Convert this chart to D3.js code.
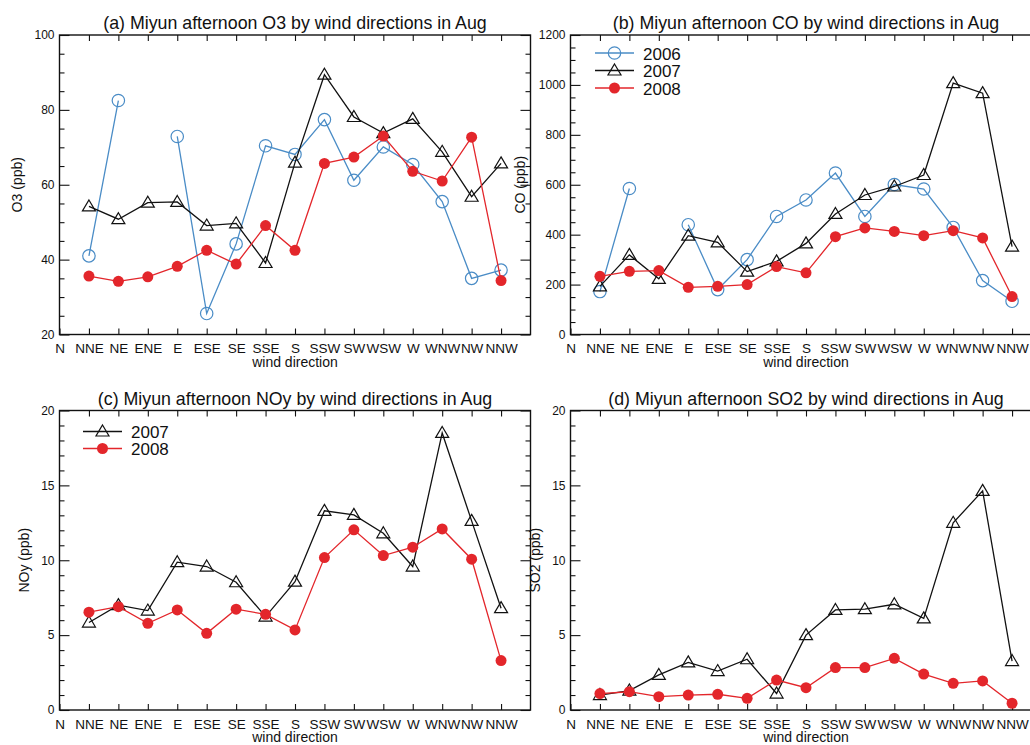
<!DOCTYPE html>
<html>
<head>
<meta charset="utf-8">
<script src="https://cdn.jsdelivr.net/npm/d3@7"></script>
<style>
  body { margin: 0; background: #fff; }
  text { font-family: "Liberation Sans", Arial, sans-serif; fill: #111; }
</style>
</head>
<body>
<div id="chart"></div>
<script>
// wind direction categories (N is position 0, box runs to 16)
const dirs = ["N","NNE","NE","ENE","E","ESE","SE","SSE","S","SSW","SW","WSW","W","WNW","NW","NNW"];

// values, N has no data
const o3_2006 = [null,41,82.5,null,72.9,25.6,44.2,70.4,68.1,77.4,61.2,70.1,65.4,55.5,35,37.2];
const o3_2007 = [null,54.2,50.8,55.2,55.4,49.1,49.7,39.1,65.9,89.4,78.1,73.8,77.6,68.8,56.8,65.7];
const o3_2008 = [null,35.6,34.2,35.4,38.2,42.5,38.8,49.1,42.5,65.7,67.4,73,63.6,61,72.7,34.4];

const co_2006 = [null,172,585,null,440,180,300,473,539,647,473,601,583,429,216,133];
const co_2007 = [null,193,319,223,396,369,252,293,365,483,559,593,639,1007,967,352];
const co_2008 = [null,233,253,256,189,193,200,272,247,392,427,413,396,416,387,152];

const noy_2007 = [null,5.84,7.0,6.64,9.87,9.58,8.53,6.24,8.57,13.3,13.03,11.8,9.58,18.5,12.63,6.8];
const noy_2008 = [null,6.53,6.9,5.79,6.68,5.12,6.73,6.39,5.35,10.18,12.03,10.31,10.87,12.09,10.07,3.3];

const so2_2007 = [null,1.0,1.3,2.34,3.18,2.6,3.39,1.1,5.0,6.68,6.73,7.06,6.12,12.5,14.63,3.27];
const so2_2008 = [null,1.1,1.22,0.89,1.0,1.05,0.78,2.0,1.49,2.83,2.83,3.45,2.4,1.78,1.94,0.45];

const styles = {
  "2006": {color: "#4a8cc6", marker: "open-circle"},
  "2007": {color: "#111111", marker: "triangle"},
  "2008": {color: "#e3262b", marker: "dot"}
};

const panels = [
  {title: "(a) Miyun afternoon O3 by wind directions in Aug", ylab: "O3 (ppb)",
   x0: 59.5, y0: 35, ylabX: 22, domain: [20,100], major: 20, minor: 5,
   series: [["2006", o3_2006], ["2007", o3_2007], ["2008", o3_2008]], legend: null},
  {title: "(b) Miyun afternoon CO by wind directions in Aug", ylab: "CO (ppb)",
   x0: 570.5, y0: 35, ylabX: 525, domain: [0,1200], major: 200, minor: 50,
   series: [["2006", co_2006], ["2007", co_2007], ["2008", co_2008]],
   legend: {x: 595, y: 53, step: 17.5}},
  {title: "(c) Miyun afternoon NOy by wind directions in Aug", ylab: "NOy (ppb)",
   x0: 59.5, y0: 410.5, ylabX: 29, domain: [0,20], major: 5, minor: 1,
   series: [["2007", noy_2007], ["2008", noy_2008]],
   legend: {x: 83, y: 431.5, step: 17}},
  {title: "(d) Miyun afternoon SO2 by wind directions in Aug", ylab: "SO2 (ppb)",
   x0: 570.5, y0: 410.5, ylabX: 540, domain: [0,20], major: 5, minor: 1,
   series: [["2007", so2_2007], ["2008", so2_2008]], legend: null}
];

const W = 1030, H = 745;
const pw = 471, ph = 299.5;

const svg = d3.select("#chart").append("svg")
  .attr("width", W).attr("height", H);

function drawMarker(g, kind, color) {
  if (kind === "open-circle") {
    g.append("circle").attr("r", 6.2).attr("fill", "none")
      .attr("stroke", color).attr("stroke-width", 1.2);
  } else if (kind === "triangle") {
    g.append("path").attr("d", "M0,-6.5L6.5,4.5L-6.5,4.5Z")
      .attr("fill", "#fff").attr("fill-opacity", 0).attr("stroke", color).attr("stroke-width", 1.2);
  } else {
    g.append("circle").attr("r", 5.5).attr("fill", color).attr("stroke", "none");
  }
}

panels.forEach(p => {
  const g = svg.append("g").attr("transform", `translate(${p.x0},${p.y0})`);

  const x = d3.scaleLinear().domain([0, 16]).range([0, pw]);
  const y = d3.scaleLinear().domain(p.domain).range([ph, 0]);

  const majors = d3.range(p.domain[0], p.domain[1] + 0.001, p.major);
  const minors = d3.range(p.domain[0], p.domain[1] + 0.001, p.minor)
    .filter(v => majors.indexOf(v) < 0);

  // y axes, ticks pointing inward
  g.append("g").call(d3.axisLeft(y).tickValues(majors).tickSizeInner(-10).tickSizeOuter(0)
      .tickPadding(5).tickFormat(d3.format("d")))
    .call(a => a.select(".domain").remove())
    .call(a => a.selectAll("text").attr("font-size", 12).style("font-family", null));
  g.append("g").call(d3.axisLeft(y).tickValues(minors).tickSizeInner(-5).tickSizeOuter(0).tickFormat(""))
    .call(a => a.select(".domain").remove());
  g.append("g").attr("transform", `translate(${pw},0)`)
    .call(d3.axisRight(y).tickValues(majors).tickSizeInner(-10).tickSizeOuter(0).tickFormat(""))
    .call(a => a.select(".domain").remove());
  g.append("g").attr("transform", `translate(${pw},0)`)
    .call(d3.axisRight(y).tickValues(minors).tickSizeInner(-5).tickSizeOuter(0).tickFormat(""))
    .call(a => a.select(".domain").remove());

  // x axes
  g.append("g").attr("transform", `translate(0,${ph})`)
    .call(d3.axisBottom(x).tickValues(d3.range(0, 16)).tickSizeInner(-6).tickSizeOuter(0)
      .tickPadding(9).tickFormat(i => dirs[i]))
    .call(a => a.select(".domain").remove())
    .call(a => a.selectAll("text").attr("font-size", 13.5).style("font-family", null));
  g.append("g")
    .call(d3.axisTop(x).tickValues(d3.range(1, 16)).tickSizeInner(-6).tickSizeOuter(0).tickFormat(""))
    .call(a => a.select(".domain").remove());

  g.selectAll(".tick line").attr("stroke", "#111").attr("stroke-width", 1.1);

  g.append("rect").attr("width", pw).attr("height", ph)
    .attr("fill", "none").attr("stroke", "#111").attr("stroke-width", 1.4);

  // titles and labels
  g.append("text").attr("x", pw / 2).attr("y", -6).attr("text-anchor", "middle")
    .attr("font-size", 17.8).text(p.title);
  g.append("text").attr("x", pw / 2).attr("y", ph + 32).attr("text-anchor", "middle")
    .attr("font-size", 14).text("wind direction");
  svg.append("text")
    .attr("transform", `translate(${p.ylabX},${p.y0 + ph / 2}) rotate(-90)`)
    .attr("text-anchor", "middle").attr("font-size", 14).text(p.ylab);

  // series
  const line = d3.line()
    .defined(d => d != null)
    .x((d, i) => x(i))
    .y(d => y(d));

  p.series.forEach(([yr, vals]) => {
    const st = styles[yr];
    g.append("path").datum(vals)
      .attr("d", line)
      .attr("fill", "none").attr("stroke", st.color).attr("stroke-width", 1.3);
    vals.forEach((v, i) => {
      if (v == null) return;
      const m = g.append("g").attr("transform", `translate(${x(i)},${y(v)})`);
      drawMarker(m, st.marker, st.color);
    });
  });

  // legend
  if (p.legend) {
    p.series.forEach(([yr], k) => {
      const st = styles[yr];
      const ly = p.legend.y + k * p.legend.step;
      svg.append("line").attr("x1", p.legend.x).attr("x2", p.legend.x + 39)
        .attr("y1", ly).attr("y2", ly).attr("stroke", st.color).attr("stroke-width", 1.3);
      const m = svg.append("g").attr("transform", `translate(${p.legend.x + 19.5},${ly})`);
      drawMarker(m, st.marker, st.color);
      svg.append("text").attr("x", p.legend.x + 48).attr("y", ly + 6.5)
        .attr("font-size", 17).text(yr);
    });
  }
});
</script>
</body>
</html>
